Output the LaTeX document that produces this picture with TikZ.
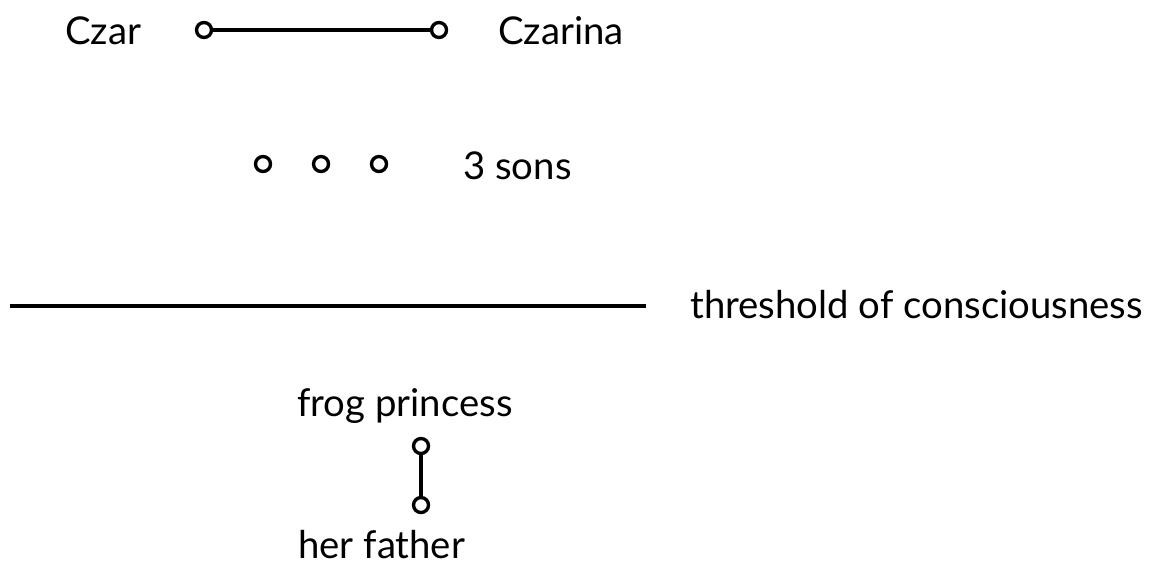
\documentclass[tikz,border=0pt]{standalone}
\usepackage{fontspec}
\setmainfont{Lato}
\begin{document}
\begin{tikzpicture}[x=0.02cm,y=-0.02cm,
  lbl/.style={anchor=base west,inner sep=0pt,font=\fontsize{21.8}{24}\selectfont},
  dot/.style={circle,draw,line width=1.9pt,minimum size=0.3cm,inner sep=0pt,fill=white},
  link/.style={line width=1.9pt}]
\useasboundingbox (0,0) rectangle (1151,565);
\node[lbl] (czar) at (65,44) {Czar};
\node[lbl] (czarina) at (498,44) {Czarina};
\node[dot] (c1) at (204,30) {};
\node[dot] (c2) at (439,30) {};
\draw[link] (c1) -- (c2);
\node[dot] (s1) at (263,164) {};
\node[dot] (s2) at (321,164) {};
\node[dot] (s3) at (379,164) {};
\node[lbl] (sons) at (463,179) {3 sons};
\coordinate (t1) at (10,306);
\coordinate (t2) at (646,306);
\draw[line width=2.1pt] (t1) -- (t2);
\node[lbl] (thr) at (690,318) {threshold of consciousness};
\node[lbl] (frog) at (297,416) {frog princess};
\node[dot] (f1) at (421,446) {};
\node[dot] (f2) at (421,505) {};
\draw[link] (f1) -- (f2);
\node[lbl] (father) at (298,558) {her father};
\end{tikzpicture}
\end{document}
